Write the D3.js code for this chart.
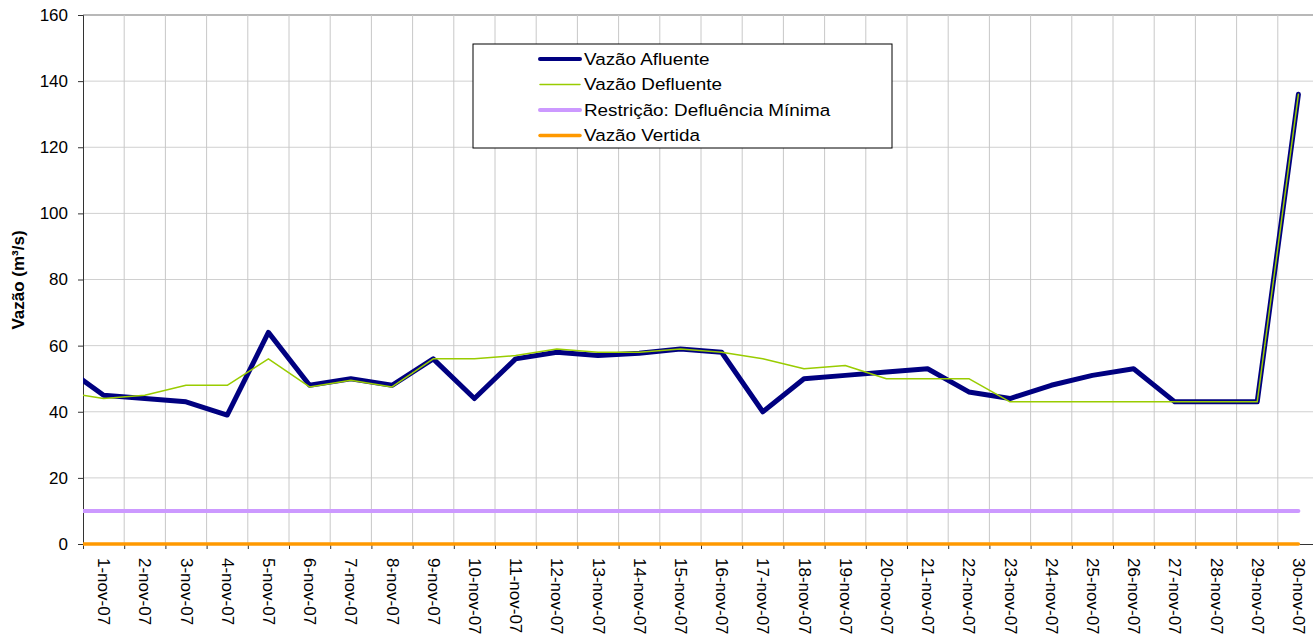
<!DOCTYPE html>
<html lang="pt">
<head>
<meta charset="UTF-8" />
<title>Vazões - nov/07</title>
<style>
  body { margin: 0; background: #fff; }
  svg { display: block; font-family: "Liberation Sans", Arial, sans-serif; }
</style>
</head>
<body>
<script src="https://cdn.jsdelivr.net/npm/d3@7"></script>
<div id="app"></div>
<script>
// dados (o primeiro dia, 31-out-07, fica fora da área do gráfico e só aparece cortado)
const dias = ["31-out-07",
  "1-nov-07", "2-nov-07", "3-nov-07", "4-nov-07", "5-nov-07", "6-nov-07", "7-nov-07", "8-nov-07",
  "9-nov-07", "10-nov-07", "11-nov-07", "12-nov-07", "13-nov-07", "14-nov-07", "15-nov-07",
  "16-nov-07", "17-nov-07", "18-nov-07", "19-nov-07", "20-nov-07", "21-nov-07", "22-nov-07",
  "23-nov-07", "24-nov-07", "25-nov-07", "26-nov-07", "27-nov-07", "28-nov-07", "29-nov-07", "30-nov-07"];
const vazaoAfluente = [54,
  45, 44, 43, 39, 64, 48, 50, 48, 56, 44, 56, 58, 57, 57.7, 59,
  58, 40, 50, 51, 52, 53, 46, 44, 48, 51, 53, 43, 43, 43, 136];
const vazaoDefluente = [46,
  44, 45, 48, 48, 56, 47.5, 49.5, 47.5, 56, 56, 57, 59, 58, 58, 59,
  58, 56, 53, 54, 50, 50, 50, 43, 43, 43, 43, 43, 43, 43, 136];
const defluenciaMinima = dias.map(() => 10);
const vazaoVertida = dias.map(() => 0);
const yTicks = [0, 20, 40, 60, 80, 100, 120, 140, 160];

const series = [
  { nome: "Vazão Afluente", valores: vazaoAfluente, cor: "#000080", largura: 5 },
  { nome: "Vazão Defluente", valores: vazaoDefluente, cor: "#99CC00", largura: 1.5 },
  { nome: "Restrição: Defluência Mínima", valores: defluenciaMinima, cor: "#CC99FF", largura: 4 },
  { nome: "Vazão Vertida", valores: vazaoVertida, cor: "#FF9900", largura: 3.5 }
];

//SVG
const w = 1313, h = 637;
const esq = 83, topo = 15, base = 544, dir = 1319;

const svg = d3.select("#app").append("svg")
  .attr("width", w).attr("height", h);

//Escalas (índice do dia, 1 = 1-nov-07)
const x = d3.scaleLinear().domain([0.5, 30.5]).range([esq, dir]);
const y = d3.scaleLinear().domain([0, 160]).range([base, topo]);

const limites = d3.range(0.5, 31, 1);
const indices = d3.range(1, 31);

//Grade
svg.append("g").selectAll("line")
  .data(yTicks.filter(v => v > 0))
  .enter().append("line")
  .attr("x1", esq).attr("x2", dir)
  .attr("y1", d => y(d)).attr("y2", d => y(d))
  .attr("stroke", d => d === 160 ? "#a0a0a0" : "#d0d0d0")
  .attr("stroke-width", d => d === 160 ? 1.5 : 1);

svg.append("g").selectAll("line")
  .data(limites.slice(1))
  .enter().append("line")
  .attr("x1", d => x(d)).attr("x2", d => x(d))
  .attr("y1", topo).attr("y2", base)
  .attr("stroke", "#c8c8c8");

//Eixos
const yAxis = d3.axisLeft(y).tickValues(yTicks).tickSize(5).tickPadding(10);
const gy = svg.append("g")
  .attr("transform", "translate(" + esq + ",0)")
  .call(yAxis);
gy.select(".domain").attr("stroke", "#333");
gy.selectAll(".tick line").attr("stroke", "#333");
gy.selectAll("text").attr("font-size", 17).attr("fill", "#000")
  .attr("font-family", "'Liberation Sans', Arial, sans-serif");

const xTicks = d3.axisBottom(x).tickValues(limites).tickSize(5).tickFormat("");
const gx = svg.append("g")
  .attr("transform", "translate(0," + base + ")")
  .call(xTicks);
gx.select(".domain").attr("stroke", "#333");
gx.selectAll(".tick line").attr("stroke", "#333");

const xLabels = d3.axisBottom(x).tickValues(indices).tickSize(0).tickFormat(i => dias[i]);
const gxl = svg.append("g")
  .attr("transform", "translate(0," + base + ")")
  .call(xLabels);
gxl.select(".domain").remove();
gxl.selectAll("text")
  .attr("transform", "rotate(90)")
  .attr("x", 14).attr("y", 0).attr("dy", "0.35em")
  .style("text-anchor", "start")
  .attr("font-size", 17).attr("fill", "#000")
  .attr("font-family", "'Liberation Sans', Arial, sans-serif");

//Título do eixo Y
svg.append("text")
  .attr("transform", "translate(24,280) rotate(-90)")
  .attr("text-anchor", "middle")
  .attr("font-size", 17).attr("font-weight", "bold")
  .text("Vazão (m³/s)");

//Linhas
svg.append("clipPath").attr("id", "area")
  .append("rect").attr("x", esq).attr("y", 0)
  .attr("width", dir - esq).attr("height", base + 6);

const linha = d3.line().x((d, i) => x(i)).y(d => y(d));

svg.append("g").attr("clip-path", "url(#area)")
  .selectAll("path")
  .data(series)
  .enter().append("path")
  .attr("d", d => linha(d.valores))
  .attr("fill", "none")
  .attr("stroke", d => d.cor)
  .attr("stroke-width", d => d.largura)
  .attr("stroke-linejoin", "round")
  .attr("stroke-linecap", "round");

//Legenda
const leg = svg.append("g").attr("transform", "translate(473,44)");
leg.append("rect")
  .attr("width", 419).attr("height", 104)
  .attr("fill", "#fff").attr("stroke", "#000");
const item = leg.selectAll(".item")
  .data(series)
  .enter().append("g")
  .attr("class", "item")
  .attr("transform", (d, i) => "translate(0," + (15 + i * 25.5) + ")");
item.append("line")
  .attr("x1", 67).attr("x2", 107)
  .attr("stroke", d => d.cor)
  .attr("stroke-width", d => d.largura === 5 ? 4 : d.largura)
  .attr("stroke-linecap", "round");
item.append("text")
  .attr("transform", "translate(111,0) scale(1.11,1)")
  .attr("dy", "0.35em")
  .attr("font-size", 17)
  .text(d => d.nome);
</script>
</body>
</html>
